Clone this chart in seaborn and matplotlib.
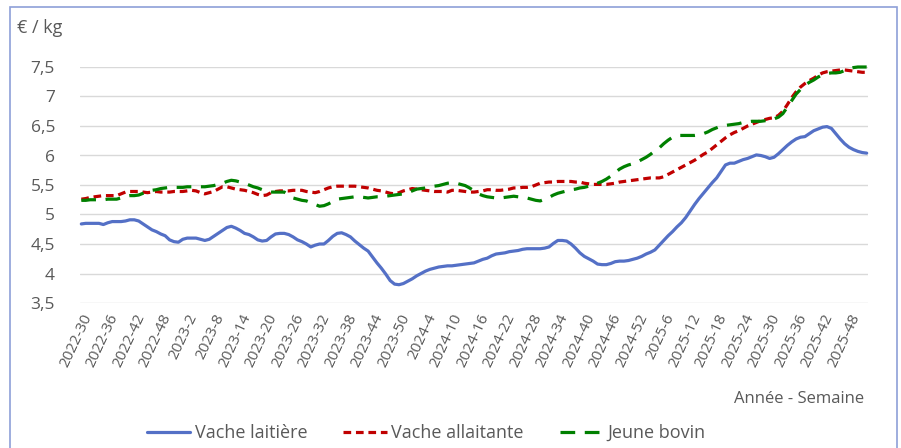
import numpy as np
import pandas as pd
import matplotlib
matplotlib.use("Agg")
import matplotlib.pyplot as plt
import seaborn as sns
from matplotlib.ticker import FuncFormatter

# ---------------------------------------------------------------------------
# Data : prix hebdomadaires (€ / kg), semaine 2022-30 -> 2025-52
# ---------------------------------------------------------------------------

years = [2022, 2023, 2024, 2025]
first_week = [30, 1, 1, 1]
last_week = [52, 52, 52, 52]

vache_laitiere = [
    4.84, 4.85, 4.85, 4.85, 4.85, 4.83, 4.86, 4.88, 4.88, 4.88,
    4.89, 4.91, 4.91, 4.89, 4.84, 4.79, 4.74, 4.71, 4.67, 4.64,
    4.57, 4.54, 4.53, 4.58, 4.60, 4.60, 4.60, 4.58, 4.56, 4.58,
    4.63, 4.68, 4.73, 4.78, 4.80, 4.77, 4.73, 4.68, 4.66, 4.62,
    4.57, 4.55, 4.56, 4.62, 4.67, 4.68, 4.68, 4.66, 4.62, 4.57,
    4.54, 4.50, 4.45, 4.48, 4.50, 4.50, 4.56, 4.63, 4.68, 4.69,
    4.66, 4.62, 4.55, 4.49, 4.43, 4.38, 4.28, 4.18, 4.09, 3.99,
    3.88, 3.82, 3.81, 3.83, 3.87, 3.91, 3.96, 4.00, 4.04, 4.07,
    4.09, 4.11, 4.12, 4.13, 4.13, 4.14, 4.15, 4.16, 4.17, 4.18,
    4.21, 4.24, 4.26, 4.30, 4.33, 4.34, 4.35, 4.37, 4.38, 4.39,
    4.41, 4.42, 4.42, 4.42, 4.42, 4.43, 4.45, 4.51, 4.56, 4.56,
    4.55, 4.50, 4.43, 4.35, 4.29, 4.25, 4.21, 4.16, 4.15, 4.15,
    4.17, 4.20, 4.21, 4.21, 4.22, 4.24, 4.26, 4.29, 4.33, 4.36,
    4.40, 4.48, 4.56, 4.64, 4.71, 4.79, 4.86, 4.95, 5.06, 5.17,
    5.27, 5.36, 5.45, 5.54, 5.62, 5.73, 5.84, 5.87, 5.87, 5.90,
    5.93, 5.95, 5.98, 6.01, 6.00, 5.98, 5.95, 5.97, 6.03, 6.10,
    6.17, 6.23, 6.28, 6.31, 6.32, 6.37, 6.42, 6.45, 6.48, 6.49,
    6.46, 6.37, 6.28, 6.20, 6.14, 6.10, 6.07, 6.05, 6.04,
]

vache_allaitante = [
    5.26, 5.27, 5.29, 5.30, 5.31, 5.32, 5.32, 5.32, 5.32, 5.35,
    5.38, 5.39, 5.39, 5.39, 5.38, 5.37, 5.38, 5.39, 5.38, 5.38,
    5.38, 5.39, 5.39, 5.39, 5.40, 5.41, 5.40, 5.37, 5.35, 5.37,
    5.39, 5.43, 5.47, 5.47, 5.45, 5.43, 5.42, 5.41, 5.39, 5.37,
    5.34, 5.32, 5.33, 5.37, 5.39, 5.40, 5.40, 5.40, 5.41, 5.41,
    5.41, 5.39, 5.38, 5.37, 5.39, 5.42, 5.45, 5.47, 5.48, 5.48,
    5.48, 5.48, 5.48, 5.47, 5.46, 5.45, 5.43, 5.41, 5.40, 5.38,
    5.36, 5.35, 5.37, 5.40, 5.42, 5.44, 5.43, 5.42, 5.41, 5.40,
    5.39, 5.39, 5.39, 5.38, 5.41, 5.41, 5.40, 5.39, 5.38, 5.38,
    5.39, 5.40, 5.42, 5.42, 5.41, 5.41, 5.42, 5.43, 5.45, 5.45,
    5.46, 5.46, 5.47, 5.50, 5.53, 5.54, 5.55, 5.55, 5.56, 5.56,
    5.56, 5.56, 5.55, 5.55, 5.53, 5.52, 5.51, 5.51, 5.51, 5.51,
    5.52, 5.53, 5.55, 5.56, 5.57, 5.58, 5.59, 5.60, 5.61, 5.62,
    5.62, 5.62, 5.64, 5.68, 5.72, 5.76, 5.80, 5.84, 5.88, 5.92,
    5.97, 6.02, 6.06, 6.12, 6.18, 6.24, 6.30, 6.35, 6.39, 6.42,
    6.46, 6.50, 6.53, 6.56, 6.59, 6.61, 6.63, 6.64, 6.68, 6.75,
    6.86, 6.98, 7.08, 7.16, 7.22, 7.27, 7.31, 7.36, 7.40, 7.42,
    7.43, 7.44, 7.45, 7.45, 7.44, 7.43, 7.42, 7.41, 7.41,
]

jeune_bovin = [
    5.24, 5.24, 5.25, 5.25, 5.25, 5.25, 5.26, 5.26, 5.26, 5.28,
    5.31, 5.32, 5.32, 5.33, 5.36, 5.39, 5.41, 5.42, 5.44, 5.45,
    5.46, 5.46, 5.46, 5.46, 5.47, 5.47, 5.47, 5.47, 5.47, 5.48,
    5.49, 5.51, 5.53, 5.56, 5.58, 5.57, 5.55, 5.53, 5.50, 5.47,
    5.45, 5.42, 5.39, 5.38, 5.38, 5.38, 5.38, 5.33, 5.28, 5.26,
    5.24, 5.23, 5.20, 5.17, 5.14, 5.15, 5.18, 5.22, 5.26, 5.27,
    5.28, 5.29, 5.30, 5.30, 5.29, 5.28, 5.29, 5.30, 5.30, 5.31,
    5.32, 5.33, 5.34, 5.35, 5.37, 5.40, 5.43, 5.44, 5.45, 5.47,
    5.48, 5.49, 5.51, 5.53, 5.54, 5.53, 5.51, 5.49, 5.45, 5.40,
    5.35, 5.32, 5.30, 5.29, 5.28, 5.28, 5.29, 5.30, 5.31, 5.30,
    5.29, 5.28, 5.26, 5.24, 5.23, 5.26, 5.29, 5.33, 5.36, 5.38,
    5.40, 5.42, 5.43, 5.45, 5.46, 5.48, 5.50, 5.53, 5.56, 5.60,
    5.65, 5.71, 5.77, 5.81, 5.84, 5.86, 5.89, 5.93, 5.97, 6.02,
    6.08, 6.13, 6.20, 6.26, 6.31, 6.34, 6.34, 6.34, 6.34, 6.34,
    6.35, 6.37, 6.40, 6.44, 6.47, 6.50, 6.51, 6.52, 6.53, 6.54,
    6.56, 6.57, 6.58, 6.58, 6.58, 6.59, 6.60, 6.62, 6.65, 6.71,
    6.82, 6.93, 7.04, 7.12, 7.19, 7.24, 7.28, 7.33, 7.37, 7.39,
    7.40, 7.40, 7.41, 7.44, 7.47, 7.49, 7.50, 7.50, 7.50,
]

series_names = ["Vache laitière", "Vache allaitante", "Jeune bovin"]
series_colors = ["#5470C6", "#C00000", "#008000"]
y_ticks = [3.5, 4, 4.5, 5, 5.5, 6, 6.5, 7, 7.5]

# semaines "AAAA-S"
week_labels = [f"{y}-{w}" for y, w0, w1 in zip(years, first_week, last_week)
               for w in range(w0, w1 + 1)]

df = pd.DataFrame({
    "idx": np.arange(len(week_labels)),
    "Vache laitière": vache_laitiere,
    "Vache allaitante": vache_allaitante,
    "Jeune bovin": jeune_bovin,
}).melt(id_vars="idx", var_name="serie", value_name="prix")

# ---------------------------------------------------------------------------
# Plot
# ---------------------------------------------------------------------------

sns.set_theme(style="white")
plt.rcParams["font.family"] = ["Open Sans", "DejaVu Sans"]
grey = "#595959"

fig = plt.figure(figsize=(9.01, 4.48), dpi=100)
ax = fig.add_axes([80 / 901, 1 - 303 / 448, 788 / 901, 236 / 448])

sns.lineplot(
    data=df, x="idx", y="prix", hue="serie", style="serie",
    hue_order=series_names, style_order=series_names,
    palette=dict(zip(series_names, series_colors)),
    dashes={"Vache laitière": "", "Vache allaitante": (2.4, 1.5),
            "Jeune bovin": (4.6, 3.0)},
    linewidth=2.3, ax=ax, legend=False, clip_on=False,
)

ax.set_xlim(-0.3, len(week_labels) - 0.7)
ax.set_ylim(3.5, 7.5)
ax.set_yticks(y_ticks)
ax.yaxis.set_major_formatter(FuncFormatter(lambda v, _: f"{v:g}".replace(".", ",")))
ax.grid(axis="y", color="#d9d9d9", linewidth=1)
ax.set_axisbelow(True)
for s in ax.spines.values():
    s.set_visible(False)

tick_pos = list(range(0, len(week_labels), 6))
ax.set_xticks(tick_pos)
ax.set_xticklabels([week_labels[i] for i in tick_pos], rotation=65,
                   ha="right", rotation_mode="anchor", fontsize=11, color=grey)
ax.tick_params(axis="x", length=0, pad=6)
ax.tick_params(axis="y", length=0, pad=18, labelsize=12.5, labelcolor=grey)
ax.set_xlabel("")
ax.set_ylabel("")

fig.text(17 / 901, 1 - 28 / 448, "€ / kg", fontsize=13, color=grey, va="center")
fig.text(864 / 901, 1 - 399 / 448, "Année - Semaine", fontsize=12, color=grey,
         ha="right", va="center")

handles = [plt.Line2D([], [], color=c, linewidth=2.3, linestyle=ls)
           for c, ls in zip(series_colors, ["-", (0, (2.4, 1.5)), (0, (4.6, 3.0))])]
fig.legend(handles, series_names, loc="center", bbox_to_anchor=(0.473, 1 - 433 / 448),
           ncol=3, frameon=False, fontsize=13, handlelength=2.4,
           handletextpad=0.25, columnspacing=2.0, labelcolor=grey)

# cadre du graphique
fig.patches.append(plt.Rectangle((10 / 901, -0.05), 887 / 901, 1 - 7 / 448 + 0.05,
                                 transform=fig.transFigure, fill=False,
                                 edgecolor="#8ea0d8", linewidth=1.2))

fig.savefig("out.png", dpi=100)
